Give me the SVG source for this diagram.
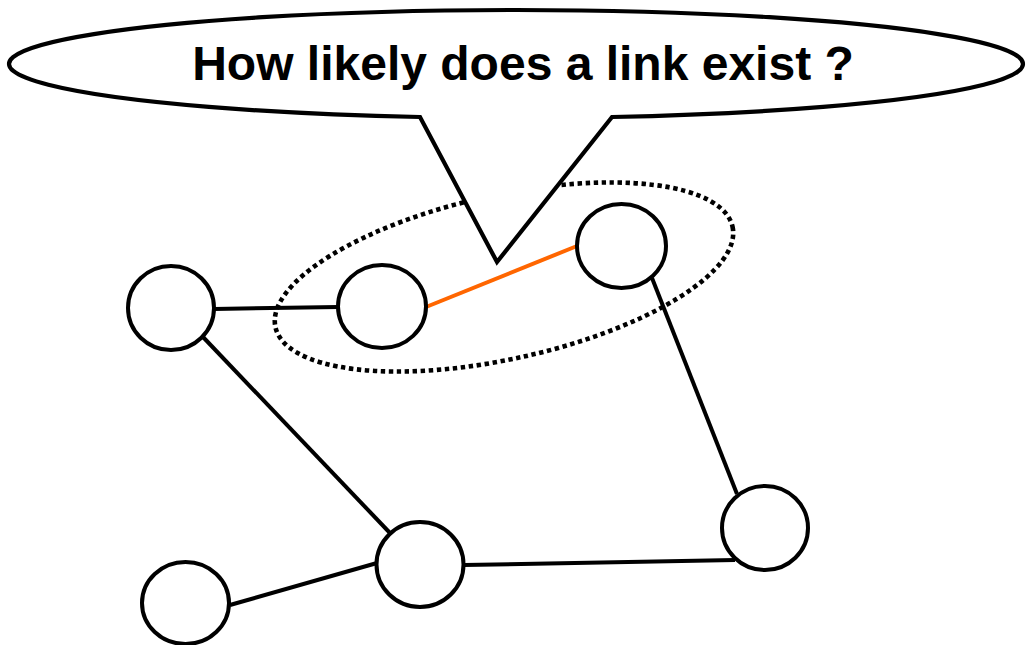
<svg xmlns="http://www.w3.org/2000/svg" width="1032" height="645" viewBox="0 0 1032 645">
<style>
.node{fill:#fff;stroke:#000;stroke-width:4}
.edge{stroke:#000;stroke-width:4;fill:none}
.hl{stroke:#FF6600;stroke-width:4;fill:none}
.group{fill:none;stroke:#000;stroke-width:4.6;stroke-dasharray:4.4 3.6}
.callout{fill:#fff;stroke:#000;stroke-width:4.2;stroke-linejoin:miter}
.label{font-family:"Liberation Sans",Arial,sans-serif;font-weight:bold;font-size:48px;fill:#000}
</style>
<rect width="1032" height="645" fill="#fff"/>
<g id="connectors">
<line class="edge" x1="214" y1="309" x2="338" y2="307"/>
<line class="hl" x1="426" y1="307" x2="577" y2="246"/>
<line class="edge" x1="652" y1="278" x2="737" y2="494"/>
<line class="edge" x1="203" y1="337" x2="390" y2="533"/>
<line class="edge" x1="230" y1="605" x2="377" y2="563"/>
<line class="edge" x1="464" y1="565" x2="735" y2="560"/>
</g>
<g id="group-ellipse">
<ellipse class="group" cx="504" cy="277" rx="234" ry="82" transform="rotate(-12.4 504 277)"/>
</g>
<g id="node-a"><ellipse class="node" cx="171" cy="308" rx="43" ry="42"/></g>
<g id="node-b"><ellipse class="node" cx="382" cy="306.5" rx="44" ry="41.5"/></g>
<g id="node-c"><ellipse class="node" cx="621.5" cy="246" rx="44.5" ry="42"/></g>
<g id="node-d"><ellipse class="node" cx="420" cy="564.5" rx="43.5" ry="42.5"/></g>
<g id="node-e"><ellipse class="node" cx="185.5" cy="603" rx="43.5" ry="41"/></g>
<g id="node-f"><ellipse class="node" cx="765" cy="528" rx="43" ry="42"/></g>
<g id="callout">
<path class="callout" d="M 420 117 A 507 54 0 1 1 612 117 L 497 262 Z"/>
<text class="label" x="523" y="80" text-anchor="middle">How likely does a link exist ?</text>
</g>
</svg>
